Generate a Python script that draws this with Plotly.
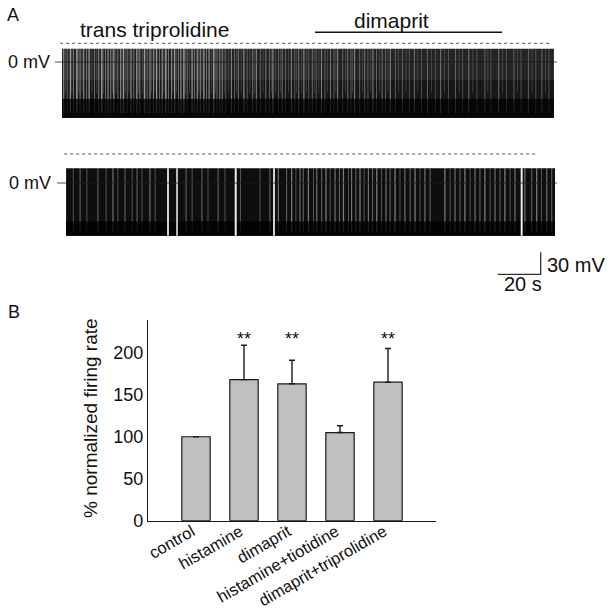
import plotly.graph_objects as go

W, H = 612, 608
FONT = "Arial, Liberation Sans, sans-serif"

# ---------------- Panel A data (time in s, voltage in mV) ----------------
top_start, top_end = 0.0, 228.8
top_peak, top_trough, top_ahp = 18, -76, -50
# inter-spike intervals that show as light streaks: time (s) and length (s)
top_gap_t = [0.8, 2.4, 3.9, 5.3, 6.9, 8.4, 10.1, 11.5, 12.6, 15.2, 17.1, 18.5, 20.2, 21.4,
             22.7, 24.1, 26.0, 27.3, 28.6, 30.3, 32.1, 33.4, 34.8, 36.2, 38.4, 39.6, 40.9,
             42.5, 44.0, 45.3, 46.6, 48.3, 49.5, 50.9, 52.4, 54.1, 55.3, 56.7, 58.2, 60.5,
             61.7, 62.9, 64.3, 66.0, 67.2, 68.4, 70.6, 72.1, 73.4,
             74.5, 76.2, 78.8, 80.3, 82.0, 84.6, 86.1, 88.7, 90.4, 92.2, 94.8, 96.5, 98.1,
             100.6, 102.4, 104.0, 106.7, 108.3, 110.1, 112.5, 114.8, 116.4, 118.2, 120.7,
             122.3, 124.9, 126.5, 128.2, 130.6, 132.9, 134.4, 136.1, 138.5, 140.8, 142.3,
             144.6, 146.2, 148.9, 150.5, 152.7, 155.0,
             158.3, 161.5, 163.9, 167.2, 170.0, 173.6, 176.1, 179.8, 183.0, 186.4, 189.2,
             193.0, 196.7, 199.5, 203.1, 206.8, 210.2, 213.5, 216.9, 220.4, 223.2, 226.5]
top_gap_len = [0.5, 0.3, 0.6, 0.3, 0.7, 0.4, 0.5, 0.3, 0.6, 0.3, 0.4, 0.7, 0.3, 0.5,
               0.4, 0.6, 0.3, 0.5, 0.7, 0.3, 0.5, 0.3, 0.6, 0.4, 0.7, 0.3, 0.5,
               0.4, 0.6, 0.3, 0.5, 0.7, 0.3, 0.4, 0.6, 0.3, 0.5, 0.7, 0.3, 0.6,
               0.3, 0.5, 0.4, 0.6, 0.3, 0.5, 0.7, 0.3, 0.4,
               0.4, 0.3, 0.5, 0.3, 0.4, 0.6, 0.3, 0.4, 0.5, 0.3, 0.4, 0.3, 0.6,
               0.3, 0.4, 0.3, 0.5, 0.3, 0.4, 0.6, 0.3, 0.4, 0.3, 0.5,
               0.3, 0.4, 0.3, 0.5, 0.3, 0.4, 0.3, 0.5, 0.3, 0.4, 0.3,
               0.5, 0.3, 0.4, 0.3, 0.5, 0.3,
               0.4, 0.3, 0.5, 0.3, 0.4, 0.3, 0.5, 0.3, 0.4, 0.3, 0.5,
               0.3, 0.4, 0.3, 0.5, 0.3, 0.4, 0.3, 0.4, 0.3, 0.4, 0.3]
# shorter, fainter intervals between the main ones
top_minor_t = [1.6, 4.6, 7.7, 9.3, 13.9, 16.2, 19.4, 23.4, 25.1, 29.5, 31.2, 35.5, 37.3,
               41.7, 43.2, 47.4, 51.6, 53.2, 57.5, 59.3, 63.6, 65.1, 69.5, 71.3, 75.4,
               77.5, 81.2, 83.3, 87.4, 89.6, 93.5, 97.3, 99.4, 101.5, 105.4, 109.2, 111.3,
               113.7, 117.3, 119.5, 123.6, 127.4, 131.8, 135.2, 139.7, 143.5, 147.6, 151.6,
               156.6, 160.0, 165.5, 171.8, 177.9, 184.7, 191.1, 198.1, 204.9, 211.8, 218.6,
               224.8]
dimaprit_on, dimaprit_off = 117.7, 204.7

bot_start, bot_end = 1.9, 229.3
bot_peak, bot_trough, bot_ahp = 20, -72, -52
bot_gap_t = [5.2, 8.4, 11.6, 16.7, 20.5, 23.7, 26.0, 29.3, 32.6, 34.9, 37.2, 40.9, 43.3,
             57.7, 60.5, 65.1, 67.9, 72.6, 75.8, 83.1, 92.1, 96.7,
             100.6, 104.5, 106.8, 108.8, 110.7, 112.2, 114.6, 116.9, 118.5, 120.8, 122.8,
             124.7, 127.0, 129.0, 130.9, 133.2, 134.7, 136.7, 138.6, 140.5, 142.5, 144.5,
             146.4, 148.7, 150.7, 152.6, 154.9, 157.2, 159.5, 161.9, 164.2, 166.5, 168.8,
             171.2, 178.1, 180.5, 182.8, 185.1, 187.4, 189.8, 192.1, 194.4, 196.7, 199.1,
             201.4, 203.7, 206.0, 208.4, 210.7, 215.3, 218.5, 220.8, 223.1, 225.5, 227.8]
bot_gap_len = [0.3, 0.4, 0.3, 0.4, 0.3, 0.5, 0.3, 0.4, 0.3, 0.4, 0.3, 0.5, 0.3,
               0.4, 0.3, 0.4, 0.3, 0.4, 0.3, 0.3, 0.3, 0.4,
               0.5, 0.4, 0.6, 0.3, 0.5, 0.4, 0.6, 0.3, 0.5, 0.4, 0.6,
               0.3, 0.5, 0.4, 0.6, 0.3, 0.5, 0.4, 0.6, 0.3, 0.5, 0.4,
               0.6, 0.3, 0.5, 0.4, 0.6, 0.3, 0.5, 0.4, 0.6, 0.3, 0.5,
               0.4, 0.6, 0.3, 0.5, 0.4, 0.6, 0.3, 0.5, 0.4, 0.6, 0.3,
               0.5, 0.4, 0.6, 0.3, 0.5, 0.5, 0.4, 0.6, 0.3, 0.5, 0.4]
bot_pause_t = [49.3, 53.5, 80.8, 98.6, 213.8]
bot_pause_len = [0.8, 0.7, 0.9, 0.8, 0.9]

scale_s, scale_mv = 20, 30

# ---------------- Panel B data ----------------
categories = ["control", "histamine", "dimaprit", "histamine+tiotidine", "dimaprit+triprolidine"]
means = [100, 168, 163, 105, 165]
sems = [0, 41, 28, 8, 40]
signif = ["", "**", "**", "", "**"]
y_ticks = [0, 50, 100, 150, 200]

# ---------------- layout geometry (pixels) ----------------
PX_PER_S = 43 / 20.0
PX_PER_MV = 22 / 30.0
T0_PX = 62
TOP_ZERO_PX = 62
BOT_ZERO_PX = 183


def px(x):
    return x / W


def py(y):
    return 1 - y / H


x2_range = [-T0_PX / PX_PER_S, (W - T0_PX) / PX_PER_S]
y2_range = [-(H - TOP_ZERO_PX) / PX_PER_MV, TOP_ZERO_PX / PX_PER_MV]
y3_range = [-(H - BOT_ZERO_PX) / PX_PER_MV, BOT_ZERO_PX / PX_PER_MV]

fig = go.Figure()


def band(t0, t1, lo, hi, color, yaxis):
    fig.add_trace(go.Scatter(x=[t0, t1, t1, t0, t0], y=[lo, lo, hi, hi, lo],
                             mode="lines", fill="toself", fillcolor=color,
                             line=dict(width=0), xaxis="x2", yaxis=yaxis,
                             hoverinfo="skip", showlegend=False))


def gaps(times, lens, lo, hi, color, yaxis, t_from=-1e9, t_to=1e9):
    xs, ys = [], []
    for t, d in zip(times, lens):
        if t_from <= t < t_to:
            xs += [t - d / 2, t + d / 2, t + d / 2, t - d / 2, t - d / 2, None]
            ys += [lo, lo, hi, hi, lo, None]
    fig.add_trace(go.Scatter(x=xs, y=ys, mode="lines", fill="toself", fillcolor=color,
                             line=dict(width=0), xaxis="x2", yaxis=yaxis,
                             hoverinfo="skip", showlegend=False))


def hline(t0, t1, v, color, width, dash, yaxis):
    fig.add_trace(go.Scatter(x=[t0, t1], y=[v, v], mode="lines",
                             line=dict(color=color, width=width, dash=dash),
                             xaxis="x2", yaxis=yaxis, hoverinfo="skip", showlegend=False))


# top trace: overlapping bands (no seams), darker toward the trough
band(top_start, top_end, top_trough, top_peak, "#242424", "y2")
band(top_start, top_end, top_trough, -25, "#171717", "y2")
band(top_start, top_end, top_trough, top_ahp, "#060606", "y2")
for t_from, t_to, alpha in [(0, 75, 0.55), (75, 157, 0.45), (157, 240, 0.36)]:
    gaps(top_gap_t, top_gap_len, top_ahp, top_peak,
         "rgba(255,255,255,%.2f)" % alpha, "y2", t_from, t_to)
gaps(top_minor_t, [0.25] * len(top_minor_t), top_ahp + 8, top_peak,
     "rgba(255,255,255,0.3)", "y2")
gaps(top_gap_t, top_gap_len, top_trough + 6, top_ahp + 0.5, "rgba(255,255,255,0.14)", "y2")
hline(top_start - 3.3, top_end + 1.4, 0, "rgba(30,30,30,0.85)", 0.9, "solid", "y2")
hline(top_start - 0.9, top_end - 0.8, (TOP_ZERO_PX - 43.3) / PX_PER_MV, "#555", 1, "3px,3px", "y2")
hline(dimaprit_on, dimaprit_off, (TOP_ZERO_PX - 32.3) / PX_PER_MV, "#111", 1.4, "solid", "y2")

# bottom trace
band(bot_start, bot_end, bot_trough, bot_peak, "#0e0e0e", "y3")
band(bot_start, bot_end, bot_trough, bot_ahp, "#030303", "y3")
gaps(bot_gap_t, bot_gap_len, bot_ahp, bot_peak, "rgba(255,255,255,0.45)", "y3")
gaps(bot_gap_t, bot_gap_len, bot_trough + 6, bot_ahp + 0.5, "rgba(255,255,255,0.12)", "y3")
gaps(bot_pause_t, bot_pause_len, bot_trough, bot_peak, "rgba(255,255,255,0.95)", "y3")
hline(bot_start - 4.2, bot_end + 0.9, 0, "rgba(30,30,30,0.85)", 0.9, "solid", "y3")
hline(bot_start - 0.9, 221.4, (BOT_ZERO_PX - 154) / PX_PER_MV, "#555", 1, "3px,3px", "y3")

# scale bar
sb_t1 = (540.7 - T0_PX) / PX_PER_S
sb_v0 = (BOT_ZERO_PX - 274.3) / PX_PER_MV
fig.add_trace(go.Scatter(x=[sb_t1 - scale_s, sb_t1, sb_t1], y=[sb_v0, sb_v0, sb_v0 + scale_mv],
                         mode="lines", line=dict(color="#333", width=1.3),
                         xaxis="x2", yaxis="y3", hoverinfo="skip", showlegend=False))

# ---------------- Panel B ----------------
fig.add_trace(go.Bar(x=categories, y=means, width=0.59,
                     marker=dict(color="#c0c0c0", line=dict(color="#1a1a1a", width=1.2)),
                     error_y=dict(type="data", array=sems, arrayminus=[0] * len(sems),
                                  symmetric=False, color="#1a1a1a", thickness=1.4, width=3),
                     xaxis="x", yaxis="y", showlegend=False, hoverinfo="skip"))

annotations = []
for c, s in zip(categories, signif):
    if s:
        annotations.append(dict(x=c, y=216, xref="x", yref="y", text=s, showarrow=False,
                                font=dict(family=FONT, size=18, color="#111"), yanchor="middle"))


def label(text, x, y, size, xanchor="center", angle=0):
    annotations.append(dict(x=px(x), y=py(y), xref="paper", yref="paper", text=text,
                            showarrow=False, xanchor=xanchor, yanchor="middle", textangle=angle,
                            font=dict(family=FONT, size=size, color="#111")))


label("A", 13, 15.5, 18)
label("B", 14, 312, 18)
label("trans triprolidine", 154, 30, 21)
label("dimaprit", 392, 21, 21)
label("0 mV", 52, 62, 18, "right")
label("0 mV", 53, 183, 18, "right")
label("30 mV", 545, 265, 20, "left")
label("20 s", 523, 284, 20)
label("% normalized firing rate", 90, 418, 19, angle=-90)

fig.update_layout(
    width=W, height=H, margin=dict(l=0, r=0, t=0, b=0, autoexpand=False),
    paper_bgcolor="white", plot_bgcolor="rgba(0,0,0,0)",
    font=dict(family=FONT, color="#111"),
    annotations=annotations,
    xaxis=dict(domain=[148 / W, 436 / W], range=[-1, 5], anchor="y", automargin=False,
               showline=True, linecolor="#1a1a1a", linewidth=1.2, showgrid=False,
               ticks="", tickangle=-30, ticklabelstandoff=-6, ticklabelshift=-4,
               tickfont=dict(size=16.5, family=FONT, color="#111")),
    yaxis=dict(domain=[py(520.7), py(320)], range=[0, 239], anchor="x", automargin=False,
               showline=True, linecolor="#1a1a1a", linewidth=1.2, showgrid=False,
               zeroline=False, tickvals=y_ticks, ticks="", ticklabelstandoff=0,
               tickfont=dict(size=18, family=FONT, color="#111")),
    xaxis2=dict(domain=[0, 1], range=x2_range, anchor="y2", visible=False, automargin=False),
    yaxis2=dict(domain=[0, 1], range=y2_range, anchor="x2", visible=False, automargin=False),
    yaxis3=dict(domain=[0, 1], range=y3_range, anchor="x2", visible=False, automargin=False),
)

fig.write_html("out.html", config={"displayModeBar": False},
               post_script="document.body.style.margin='0';")
